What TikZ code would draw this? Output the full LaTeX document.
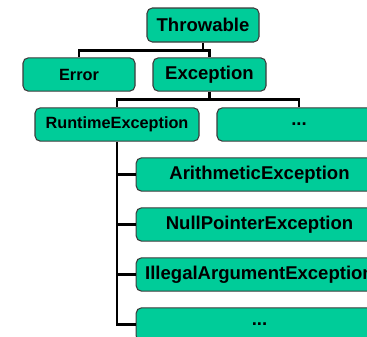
\documentclass[tikz,border=0pt]{standalone}
\usepackage{fontspec}
\setmainfont{Liberation Sans}
\usetikzlibrary{calc}
\definecolor{boxgreen}{RGB}{0,204,153}
\definecolor{boxline}{RGB}{60,60,60}
\tikzset{
  cls/.style={draw=boxline, line width=0.8pt, fill=boxgreen, rounded corners=4pt,
    inner sep=0pt, font=\fontsize{13.9}{16}\selectfont\bfseries},
  clssmall/.style={cls, font=\fontsize{12.2}{14}\selectfont\bfseries},
  link/.style={line width=1.9pt, black},
}
\begin{document}
\begin{tikzpicture}[x=0.75pt,y=0.75pt,yscale=-1,xscale=1]
\clip (0,0) rectangle (367,336);

% Boxes
\node[cls, minimum width=84pt, minimum height=25.5pt] (throwable) at (203,25) {Throwable};
\node[clssmall, minimum width=84pt, minimum height=25pt] (error) at (79,74.5) {Error};
\node[cls, minimum width=84.75pt, minimum height=25pt] (exception) at (209.5,74.5) {Exception};
\node[clssmall, minimum width=123pt, minimum height=25pt] (runtime) at (117,124.5) {RuntimeException};
\node[cls, minimum width=123pt, minimum height=25pt] (other) at (299,124.5) {...};
\node[cls, minimum width=185pt, minimum height=25pt] (arith) at (259.5,174.5) {ArithmeticException};
\node[cls, minimum width=185pt, minimum height=25pt] (nullptr) at (259.5,224.5) {NullPointerException};
\node[cls, minimum width=185pt, minimum height=25pt] (illegal) at (259.5,274.5) {IllegalArgumentException};
\node[cls, minimum width=185pt, minimum height=25pt] (more) at (259.5,324.5) {...};

% Throwable -> Error, Exception
\coordinate (tj) at ($(throwable.south)+(0,8)$);
\draw[link] (throwable.south) -- (tj) -| (error.north);
\draw[link] (tj) -| (exception.north);

% Exception -> RuntimeException, ...
\coordinate (ej) at ($(exception.south)+(0,8)$);
\draw[link] (exception.south) -- (ej) -| (runtime.north);
\draw[link] (ej) -| (other.north);

% RuntimeException -> subclasses
\draw[link] (runtime.south) |- (more.west);
\draw[link] (arith.west) -- (arith.west -| runtime.south);
\draw[link] (nullptr.west) -- (nullptr.west -| runtime.south);
\draw[link] (illegal.west) -- (illegal.west -| runtime.south);

\end{tikzpicture}
\end{document}
